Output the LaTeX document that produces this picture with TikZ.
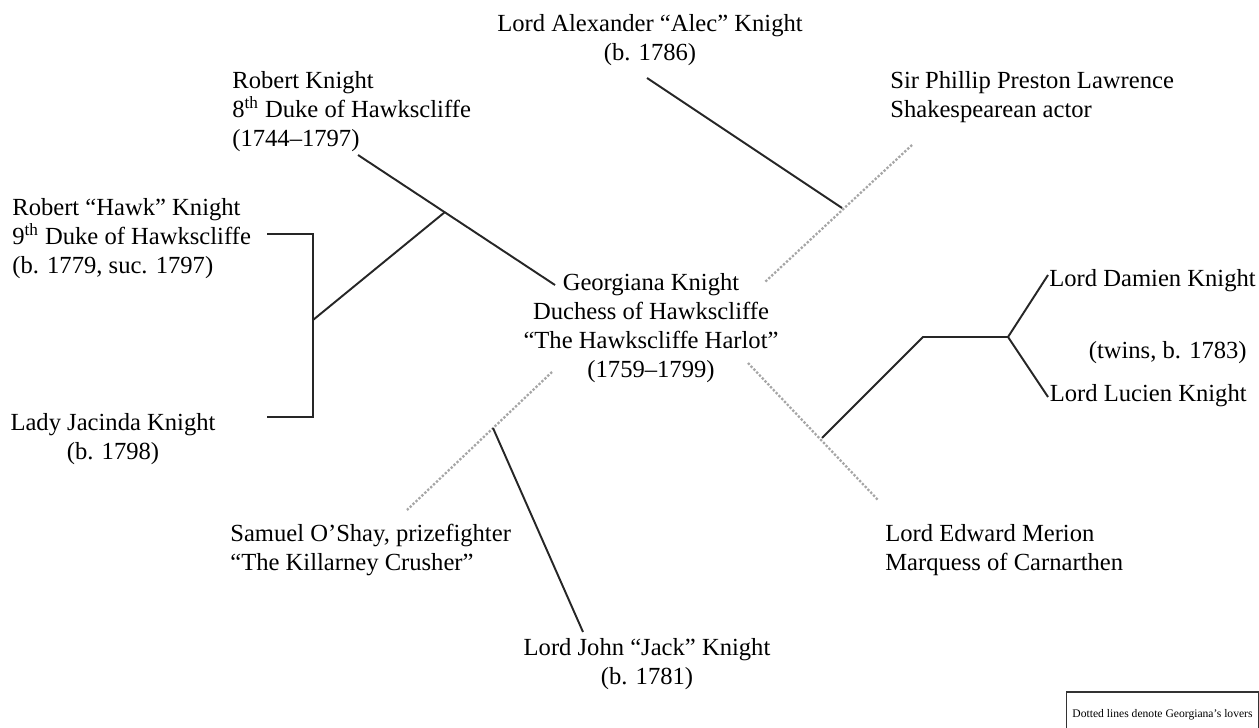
\documentclass[tikz,border=0pt]{standalone}
\usepackage{fontspec}
\setmainfont{Liberation Serif}
\usetikzlibrary{positioning}

\begin{document}
\begin{tikzpicture}[
  person/.style={font=\fontsize{14}{16.5}\selectfont,inner sep=0pt},
  kin/.style={black!85,line width=1.1pt},
  lover/.style={black!35,line width=1.3pt,densely dotted}]
\useasboundingbox (0,0) rectangle (25.18,14.54);
\clip (0,0) rectangle (25.18,14.54);

% people
\node[person,align=center,anchor=north] (alec) at (13.0,14.26) {Lord Alexander “Alec” Knight\\(b. 1786)};
\node[person,align=left,anchor=north west] (duke8) at (4.64,13.12) {Robert Knight\\8\textsuperscript{th} Duke of Hawkscliffe\\(1744–1797)};
\node[person,align=left,anchor=north west] (lawrence) at (17.8,13.12) {Sir Phillip Preston Lawrence\\Shakespearean actor};
\node[person,align=left,anchor=north west] (hawk) at (0.24,10.58) {Robert “Hawk” Knight\\9\textsuperscript{th} Duke of Hawkscliffe\\(b. 1779, suc. 1797)};
\node[person,align=center,anchor=north] (georgiana) at (13.02,9.08) {Georgiana Knight\\Duchess of Hawkscliffe\\“The Hawkscliffe Harlot”\\(1759–1799)};
\node[person,anchor=base west] (damien) at (20.98,8.82) {Lord Damien Knight};
\node[person,anchor=base east] (twins) at (24.94,7.38) {(twins, b. 1783)};
\node[person,anchor=base east] (lucien) at (24.94,6.52) {Lord Lucien Knight};
\node[person,align=center,anchor=north] (jacinda) at (2.26,6.28) {Lady Jacinda Knight\\(b. 1798)};
\node[person,align=left,anchor=north west] (oshay) at (4.6,4.06) {Samuel O’Shay, prizefighter\\“The Killarney Crusher”};
\node[person,align=left,anchor=north west] (merion) at (17.7,4.06) {Lord Edward Merion\\Marquess of Carnarthen};
\node[person,align=center,anchor=north] (jack) at (12.94,1.78) {Lord John “Jack” Knight\\(b. 1781)};

% line ends and joins
\coordinate (d8a) at (7.16,11.44);
\coordinate (d8b) at (11.1,8.84);
\coordinate (m8) at (8.9,10.3);
\coordinate (kids8) at (6.26,8.14);
\coordinate (hawktop) at (6.26,9.86);
\coordinate (jacbot) at (6.26,6.2);
\coordinate (hawktick) at (5.34,9.86);
\coordinate (jactick) at (5.34,6.2);
\coordinate (alecend) at (12.94,12.98);
\coordinate (plpa) at (18.24,11.64);
\coordinate (plpb) at (15.3,8.9);
\coordinate (mplp) at (16.84,10.38);
\coordinate (osa) at (11.04,7.1);
\coordinate (osb) at (8.14,4.34);
\coordinate (mos) at (9.86,5.98);
\coordinate (jackend) at (11.66,1.9);
\coordinate (mera) at (14.96,7.28);
\coordinate (merb) at (17.56,4.54);
\coordinate (mmer) at (16.44,5.78);
\coordinate (tw1) at (18.46,7.8);
\coordinate (tw2) at (20.16,7.8);
\coordinate (damend) at (20.96,9.04);
\coordinate (lucend) at (20.96,6.6);

% husband
\draw[kin] (d8a) -- (d8b);
\draw[kin] (m8) -- (kids8);
\draw[kin] (hawktick) -- (hawktop) -- (jacbot) -- (jactick);

% lovers
\draw[lover] (plpa) -- (plpb);
\draw[kin] (alecend) -- (mplp);
\draw[lover] (osa) -- (osb);
\draw[kin] (mos) -- (jackend);
\draw[lover] (mera) -- (merb);
\draw[kin] (mmer) -- (tw1) -- (tw2) -- (damend);
\draw[kin] (tw2) -- (lucend);

\node[draw,black!80,text=black,line width=0.8pt,minimum width=3.7cm,minimum height=0.9cm,font=\fontsize{6.6}{7}\selectfont] (legend) at (23.25,0.25) {Dotted lines denote Georgiana’s lovers};

\end{tikzpicture}
\end{document}
